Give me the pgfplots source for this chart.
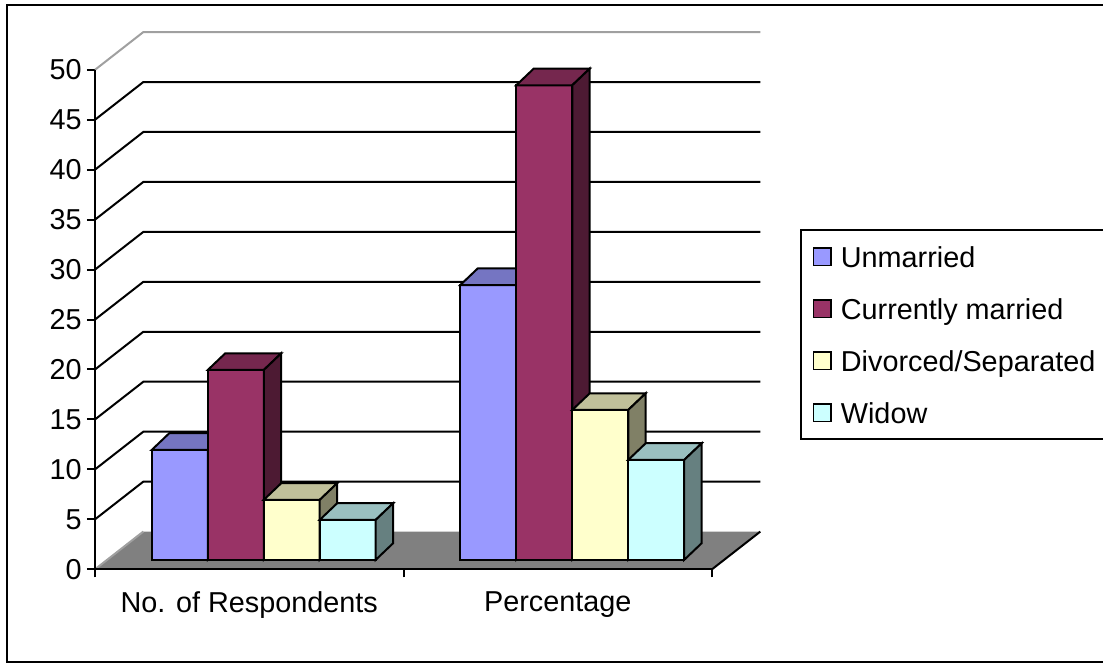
\documentclass[border=0pt]{standalone}
\usepackage{fontspec}
\setmainfont{Liberation Sans}
\usepackage{pgfplots}
\pgfplotsset{compat=1.18}

% face colours: front, top, side
\definecolor{unmF}{HTML}{9999FF}\definecolor{unmT}{HTML}{7575C2}\definecolor{unmS}{HTML}{4D4D80}
\definecolor{marF}{HTML}{993366}\definecolor{marT}{HTML}{75274E}\definecolor{marS}{HTML}{4D1A33}
\definecolor{divF}{HTML}{FFFFCC}\definecolor{divT}{HTML}{C0C09A}\definecolor{divS}{HTML}{808066}
\definecolor{widF}{HTML}{CCFFFF}\definecolor{widT}{HTML}{9AC0C0}\definecolor{widS}{HTML}{668080}
\definecolor{floorgray}{HTML}{808080}
\definecolor{edgegray}{HTML}{A0A0A0}

% bar geometry (axis units)
\def\barw{0.1815}   % bar width
\def\groupoff{0.184}% first bar offset inside a category
\def\barbase{0.95}  % front bottom edge of the bars
\def\depx{0.0567}   % bar depth, x
\def\depy{1.67}     % bar depth, y

% #1 category, #2 index in group, #3 value, #4 front, #5 top, #6 side colour
\newcommand\cuboid[6]{%
  \pgfmathsetmacro\cxl{#1+\groupoff+#2*\barw}%
  \pgfmathsetmacro\cxr{\cxl+\barw}%
  \pgfmathsetmacro\cyb{\barbase}%
  \pgfmathsetmacro\cyt{\barbase+#3}%
  \pgfmathsetmacro\cxlb{\cxl+\depx}%
  \pgfmathsetmacro\cxrb{\cxr+\depx}%
  \pgfmathsetmacro\cybb{\barbase+\depy}%
  \pgfmathsetmacro\cytb{\barbase+#3+\depy}%
  \addplot[barface, fill=#4] coordinates {(\cxl,\cyb) (\cxr,\cyb) (\cxr,\cyt) (\cxl,\cyt)} -- cycle;
  \addplot[barface, fill=#5] coordinates {(\cxl,\cyt) (\cxr,\cyt) (\cxrb,\cytb) (\cxlb,\cytb)} -- cycle;
  \addplot[barface, fill=#6] coordinates {(\cxr,\cyb) (\cxrb,\cybb) (\cxrb,\cytb) (\cxr,\cyt)} -- cycle;
}

\pgfplotsset{barface/.style={draw=black, line width=1pt, line join=miter, mark=none, forget plot}}

\begin{document}
\begin{tikzpicture}[font=\fontsize{14.4}{17}\selectfont]
\useasboundingbox (-47.5pt,-47.35pt) rectangle (504pt,284.65pt);
\begin{axis}[
  at={(0pt,0pt)}, anchor=south west,
  x=154.25pt, y=4.995pt,
  xmin=0, xmax=2.16, ymin=0, ymax=53.8,
  axis lines=left, axis line style={draw=none,-},
  clip=false,
  tick align=outside,
  major tick length=4pt,
  tick style={black, line width=1pt},
  ytick={0,5,...,50},
  xtick={0,1,2}, xticklabels={,,},
  extra x ticks={0.5,1.5},
  extra x tick labels={No. of Respondents, Percentage},
  extra x tick style={major tick length=0pt, xticklabel style={yshift=-7.5pt}},
  tick label style={font=\fontsize{14.4}{17}\selectfont},
  yticklabel style={inner xsep=2.5pt},
  /pgf/number format/assume math mode=true,
  legend style={at={(1.058,0.6326)}, anchor=north west, draw=black, line width=1pt,
    inner xsep=5.85pt, inner ysep=5.6pt, row sep=10.7pt, column sep=4.5pt,
    nodes={inner sep=0pt, text height=12.8pt, text depth=2.5pt,
      font=\fontsize{14.4}{17}\selectfont},
    cells={anchor=west}},
  legend image code/.code={\draw[#1, line width=0.8pt] (0pt,-4.4pt) rectangle (8.8pt,4.4pt);},
]
% floor
\fill[floorgray] (axis cs:0,0) -- (axis cs:2,0) -- ++(24.15pt,18.85pt) -- ++(-308.5pt,0pt) -- cycle;
\draw[black, line width=1pt] (axis cs:2,0) -- ++(24.15pt,18.85pt);
\draw[edgegray, line width=1pt] (axis cs:0,0) -- ++(24.15pt,18.85pt);
% side and back wall grid lines
\pgfplotsinvokeforeach{5,10,...,45}{%
  \draw[black, line width=1pt] (axis cs:0,#1) -- ++(24.15pt,18.85pt) -- ++(308.5pt,0pt);
}
\draw[edgegray, line width=1pt] (axis cs:0,50) -- ++(24.15pt,18.85pt) -- ++(308.5pt,0pt);
% front axis lines
\draw[black, line width=1pt] (axis cs:0,50) -- (axis cs:0,0) -- (axis cs:2,0);

% No. of Respondents
\cuboid{0}{0}{11}{unmF}{unmT}{unmS}
\cuboid{0}{1}{19}{marF}{marT}{marS}
\cuboid{0}{2}{6}{divF}{divT}{divS}
\cuboid{0}{3}{4}{widF}{widT}{widS}
% Percentage
\cuboid{1}{0}{27.5}{unmF}{unmT}{unmS}
\cuboid{1}{1}{47.5}{marF}{marT}{marS}
\cuboid{1}{2}{15}{divF}{divT}{divS}
\cuboid{1}{3}{10}{widF}{widT}{widS}

\addlegendimage{fill=unmF, draw=black}\addlegendentry{Unmarried}
\addlegendimage{fill=marF, draw=black}\addlegendentry{Currently married}
\addlegendimage{fill=divF, draw=black}\addlegendentry{Divorced/Separated}
\addlegendimage{fill=widF, draw=black}\addlegendentry{Widow}
\end{axis}
\draw[black, line width=1pt] (-44pt,-46.5pt) rectangle (512pt,282pt);
\end{tikzpicture}
\end{document}
